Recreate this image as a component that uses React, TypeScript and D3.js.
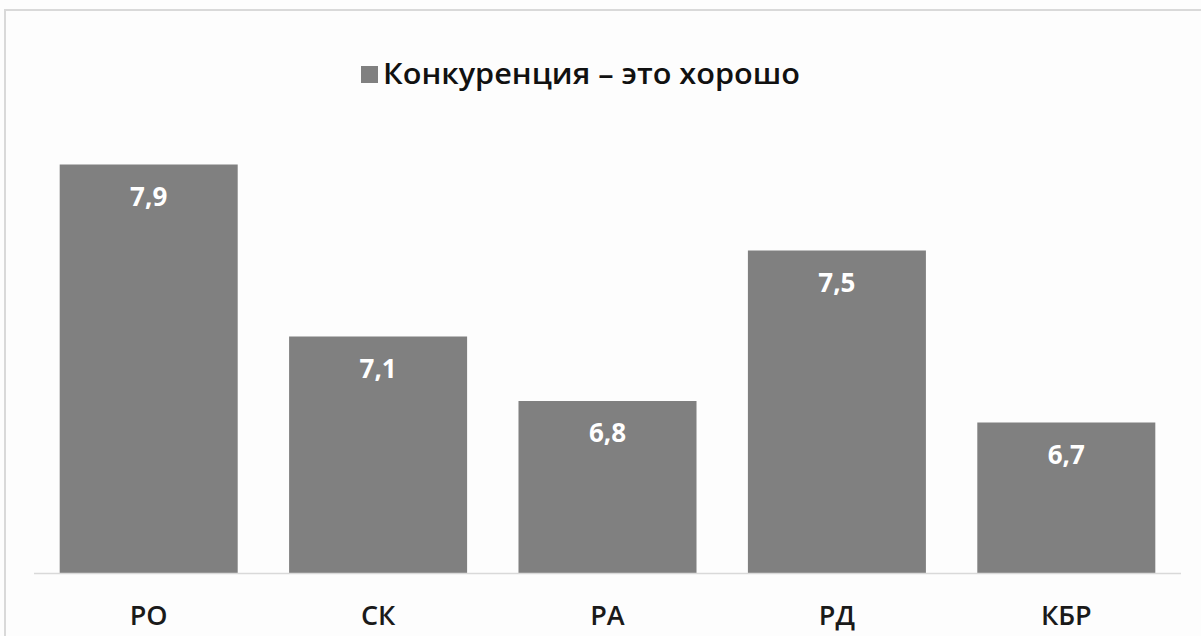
import React from "react";
import * as d3 from "d3";

const categories = ["РО", "СК", "РА", "РД", "КБР"];
const values = [7.9, 7.1, 6.8, 7.5, 6.7];
const seriesName = "Конкуренция – это хорошо";

const W = 1201;
const H = 636;

export default function App() {
  const x = d3.scaleBand<string>().domain(categories).range([34, 1181]).paddingInner(0.224).paddingOuter(0.112);
  const y = d3.scaleLinear().domain([6, 8]).range([573, 143]);
  const fmt = (v: number) => v.toFixed(1).replace(".", ",");
  return (
    <svg width={W} height={H} style={{ position: "absolute", left: 0, top: 0, background: "#fdfdfd" }}>
      <rect x={5} y={10} width={1200} height={640} fill="#fdfdfd" stroke="#d9d9d9" strokeWidth={2} />
      {categories.map((c, i) => (
        <g key={c}>
          <rect x={x(c)} y={y(values[i])} width={x.bandwidth()} height={y(6) - y(values[i])} fill="#808080" />
          <text x={(x(c) as number) + x.bandwidth() / 2} y={y(values[i]) + 41} textAnchor="middle"
            fontFamily="'Open Sans', sans-serif" fontWeight={700} fontSize={26} fill="#ffffff">{fmt(values[i])}</text>
          <text x={(x(c) as number) + x.bandwidth() / 2} y={625} textAnchor="middle"
            fontFamily="'Open Sans', sans-serif" fontWeight={600} fontSize={27} fill="#1a1a1a">{c}</text>
        </g>
      ))}
      <line x1={34} x2={1181} y1={573.5} y2={573.5} stroke="#d9d9d9" strokeWidth={1.5} />
      <rect x={361} y={66} width={17} height={17} fill="#808080" />
      <text x={383} y={84} fontFamily="'Open Sans', sans-serif" fontWeight={600} fontSize={29} fill="#111"
        textLength={417} lengthAdjust="spacingAndGlyphs">{seriesName}</text>
    </svg>
  );
}
